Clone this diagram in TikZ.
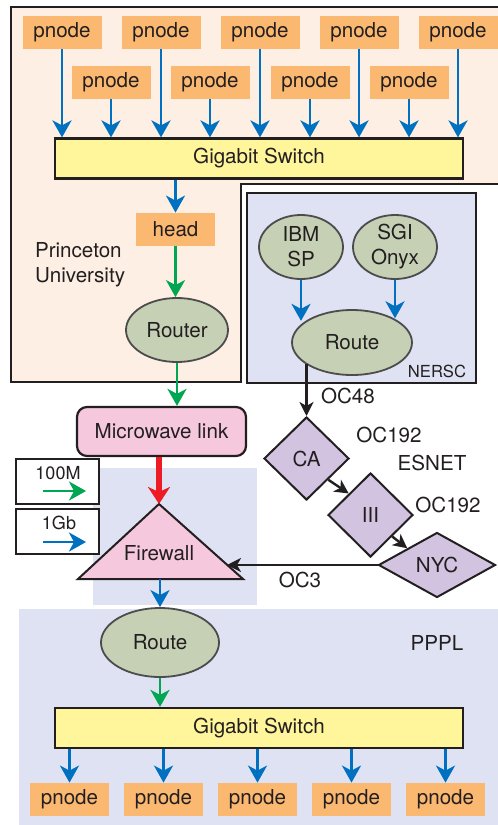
\documentclass[tikz,border=0pt]{standalone}
\usepackage{fontspec}
\setmainfont{TeX Gyre Heros}
\usetikzlibrary{shapes.geometric, arrows.meta, positioning, calc}

\definecolor{inkdark}{HTML}{231F20}
\definecolor{univfill}{HTML}{FDEFE3}
\definecolor{labfill}{HTML}{DFE2F3}
\definecolor{pnodefill}{HTML}{FBB870}
\definecolor{switchfill}{HTML}{FFF59A}
\definecolor{routerfill}{HTML}{C5D0B5}
\definecolor{linkfill}{HTML}{F6C8DD}
\definecolor{hubfill}{HTML}{D2C4E1}
\definecolor{gigblue}{HTML}{0070C0}
\definecolor{megagreen}{HTML}{00A651}
\definecolor{linkred}{HTML}{ED1C24}

\begin{document}
\begin{tikzpicture}[
  x=0.5pt, y=-0.5pt,
  every node/.style={font=\fontsize{10.3}{12.5}\selectfont, text=inkdark},
  pnodebox/.style={rectangle, fill=pnodefill, minimum width=39.5pt, minimum height=16.5pt, inner sep=0pt},
  switchbox/.style={rectangle, draw=inkdark, line width=1.1pt, fill=switchfill, minimum width=204pt, minimum height=20pt},
  router/.style={ellipse, draw=black!70, line width=0.9pt, fill=routerfill, inner sep=0pt, align=center},
  hub/.style={diamond, draw=inkdark, line width=1pt, fill=hubfill, inner sep=1pt},
  legbox/.style={rectangle, draw=inkdark, line width=1.1pt, fill=white, minimum width=41.5pt, minimum height=22.5pt},
  legtext/.style={font=\fontsize{9}{11}\selectfont},
  small/.style={font=\fontsize{8.3}{10}\selectfont},
  gig/.style={draw=gigblue, line width=1.4pt, -{Stealth[length=8.5pt, width=9.5pt, inset=2.5pt]}},
  mega/.style={draw=megagreen, line width=1.4pt, -{Stealth[length=8.5pt, width=9.5pt, inset=2.5pt]}},
  wan/.style={draw=inkdark, line width=1.2pt, -{Stealth[length=7pt, width=7pt, inset=2pt]}},
]
\useasboundingbox (0,0) rectangle (498,825);

% sites
\fill[labfill] (93,468) rectangle (257,605);
\fill[labfill] (19,609) rectangle (500,827);
\draw[draw=inkdark, line width=1.1pt, fill=univfill] (11,7) -- (500,7) -- (500,184) -- (241,184) -- (241,382) -- (11,382) -- cycle;
\draw[draw=inkdark, line width=1.1pt, fill=labfill] (247,193) rectangle (476,383);

\node[align=left, anchor=west] (pu) at (28,264.5) {Princeton\\University};
\node[small] (nersc) at (437,371) {NERSC};
\node (pppl) at (437,643) {PPPL};

% Princeton cluster
\foreach \x [count=\i] in {62,161,260,359,458}{
  \node[pnodebox] (t\i) at (\x,32.5) {pnode};
}
\foreach \x [count=\i] in {111,210,310,409}{
  \node[pnodebox] (u\i) at (\x,82.5) {pnode};
}
\node[switchbox] (sw1) at (259,158.5) {Gigabit Switch};
\foreach \n in {t1,t2,t3,t4,t5,u1,u2,u3,u4}{
  \draw[gig] (\n.south) -- (\n.south |- sw1.north);
}
\node[pnodebox] (head) at (175.5,229.5) {head};
\node[router, minimum width=51pt, minimum height=32pt] (rt1) at (177,330) {Router};
\draw[gig] (head.north |- sw1.south) -- (head.north);
\draw[mega] (head.south) -- (head.south |- rt1.north);

% microwave and firewall
\node[rectangle, rounded corners=5pt, draw=inkdark, line width=1.1pt, fill=linkfill, minimum width=84.5pt, minimum height=24.5pt] (mw) at (161.5,431.5) {Microwave link};
\draw[mega] (rt1.south) -- (rt1.south |- mw.north);
\draw[draw=inkdark, line width=1pt, fill=linkfill] (78,579) -- (159,504) coordinate (fwtop) -- (243,579) -- cycle;
\node (fw) at (159,553) {Firewall};
\coordinate (fwbase) at (160,579);
\coordinate (fwin) at (227,565);
\draw[linkred, line width=3.3pt, -{Stealth[length=8.5pt, width=11pt, inset=2.5pt]}] (mw.south -| fwtop) -- (fwtop);

% legend
\node[legbox] (lg1) at (57.5,481.5) {};
\node[legtext] (lt1) at (58,473) {100M};
\draw[mega] ([shift={(-14.5,9.5)}]lg1.center) -- ([shift={(28.5,9.5)}]lg1.center);
\node[legbox] (lg2) at (57.5,531.5) {};
\node[legtext] (lt2) at (59,523) {1Gb};
\draw[gig] ([shift={(-14.5,10.5)}]lg2.center) -- ([shift={(28.5,10.5)}]lg2.center);

% NERSC
\node[router, minimum width=42pt, minimum height=32pt] (ibm) at (301,247) {IBM\\SP};
\node[router, minimum width=42pt, minimum height=32pt] (sgi) at (395,247) {SGI\\Onyx};
\node[router, minimum width=60pt, minimum height=32.5pt] (rt3) at (352,342.5) {Route};
\draw[gig] (ibm) -- (ibm |- rt3.155);
\draw[gig] (sgi) -- (sgi |- rt3.30);

% ESNET
\node[hub, minimum width=42.5pt, minimum height=41.5pt] (ca) at (306.5,458.5) {CA};
\node[hub, minimum width=42.5pt, minimum height=42pt] (iii) at (370.5,515) {III};
\node[hub, aspect=1.8, minimum width=58.5pt, minimum height=32.5pt] (nyc) at (437,565) {NYC};
\draw[wan] (ca.north |- rt3.205) -- (ca.north);
\draw[wan] (ca.south east) -- (iii.north west);
\draw[wan] (iii.south east) -- (nyc.north west);
\draw[wan] (nyc.west) -- (fwin);
\node (oc48) at (348,396) {OC48};
\node (oca) at (389,435) {OC192};
\node (esnet) at (432,463) {ESNET};
\node (ocb) at (448,505) {OC192};
\node (oc3) at (300,580) {OC3};

% PPPL cluster
\node[router, minimum width=59pt, minimum height=34.5pt] (rt2) at (160,642.5) {Route};
\draw[gig] (fwbase) -- (rt2.north);
\node[switchbox] (sw2) at (259,728) {Gigabit Switch};
\draw[mega] (rt2.south) -- (rt2.south |- sw2.north);
\foreach \x [count=\i] in {69.5,163.5,257.5,351.5,445.5}{
  \node[pnodebox] (b\i) at (\x,799.5) {pnode};
  \draw[gig] (b\i.north |- sw2.south) -- (b\i.north);
}
\end{tikzpicture}
\end{document}
